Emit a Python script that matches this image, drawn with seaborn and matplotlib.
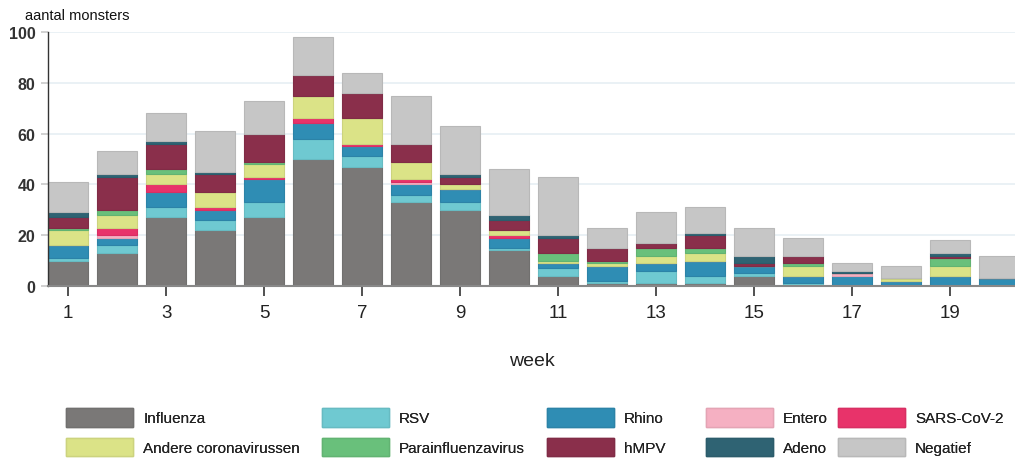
import numpy as np
import pandas as pd
import matplotlib
matplotlib.use("Agg")
import matplotlib.pyplot as plt
import matplotlib.colors as mcolors
from matplotlib.patches import Patch
import seaborn as sns

weeks = list(range(1, 21))
viruses = ["Influenza", "RSV", "Rhino", "Entero", "SARS-CoV-2",
           "Andere coronavirussen", "Parainfluenzavirus", "hMPV", "Adeno", "Negatief"]
colors = ["#7a7877", "#6fc9d1", "#2f8db4", "#f5b0c2", "#e8336a",
          "#dbe387", "#69c07b", "#8a2f4b", "#2f6373", "#c6c6c6"]

influenza = [10, 13, 27, 22, 27, 50, 47, 33, 30, 14, 4, 1, 1, 1, 4, 0, 0, 0, 0, 0]
rsv       = [1, 3, 4, 4, 6, 8, 4, 3, 3, 1, 3, 1, 5, 3, 1, 1, 0, 0, 0, 0]
rhino     = [5, 3, 6, 4, 9, 6, 4, 4, 5, 4, 2, 6, 3, 6, 3, 3, 4, 2, 4, 3]
entero    = [0, 1, 0, 0, 0, 0, 0, 1, 0, 0, 0, 0, 0, 0, 0, 0, 1, 0, 0, 0]
sars      = [0, 3, 3, 1, 1, 2, 1, 1, 0, 1, 0, 0, 0, 0, 0, 0, 0, 0, 0, 0]
andere    = [6, 5, 4, 6, 5, 9, 10, 7, 2, 2, 1, 1, 3, 3, 0, 4, 0, 1, 4, 0]
para      = [1, 2, 2, 0, 1, 0, 0, 0, 0, 0, 3, 1, 3, 2, 0, 1, 0, 0, 3, 0]
hmpv      = [4, 13, 10, 7, 11, 8, 10, 7, 3, 4, 6, 5, 2, 5, 1, 3, 0, 0, 1, 0]
adeno     = [2, 1, 1, 1, 0, 0, 0, 0, 1, 2, 1, 0, 0, 1, 3, 0, 1, 0, 1, 0]
negatief  = [12, 9, 11, 16, 13, 15, 8, 19, 19, 18, 23, 8, 12, 10, 11, 7, 3, 5, 5, 9]

series = [influenza, rsv, rhino, entero, sars, andere, para, hmpv, adeno, negatief]

rows = []
for name, vals in zip(viruses, series):
    for w, v in zip(weeks, vals):
        rows.append({"week": w, "virus": name, "n": v})
df = pd.DataFrame(rows)

sns.set_theme(style="white")
plt.rcParams["font.family"] = ["Liberation Sans", "DejaVu Sans"]

fig = plt.figure(figsize=(10.15, 4.64), dpi=100)
ax = fig.add_axes([48 / 1015, 1 - 287 / 464, 1 - 48 / 1015, (287 - 33) / 464])

palette = dict(zip(viruses, colors))


def edge_of(c):
    return tuple(np.array(mcolors.to_rgb(c)) * 0.93)


# seaborn stacks the first hue level on top, so reverse the order
sns.histplot(data=df, x="week", weights="n", hue="virus",
             hue_order=viruses[::-1], palette=palette, multiple="stack",
             discrete=True, shrink=0.82, alpha=1, linewidth=0.8,
             legend=False, ax=ax)

for p in ax.patches:
    p.set_edgecolor(edge_of(p.get_facecolor()))

ax.set_xlim(0.59, 20.33)
ax.set_ylim(0, 100)
ax.set_yticks([0, 20, 40, 60, 80, 100])
ax.set_xticks(list(range(1, 20, 2)))
ax.grid(axis="y", color="#e6eff4", linewidth=1.2)
ax.set_axisbelow(True)
for s in ["top", "right"]:
    ax.spines[s].set_visible(False)
ax.spines["left"].set_color("#333333")
ax.spines["left"].set_linewidth(1.0)
ax.spines["bottom"].set_color("#888888")
ax.spines["bottom"].set_linewidth(1.5)
ax.tick_params(axis="y", labelsize=11.5, colors="#333333", length=5,
               color="#cccccc", pad=4, left=True)
ax.tick_params(axis="x", labelsize=13.5, colors="#222222", length=7,
               color="#333333", width=1.2, pad=6, bottom=True)
for t in ax.get_yticklabels():
    t.set_fontweight("bold")
ax.set_ylabel("")
ax.set_xlabel("week", fontsize=14, color="#222222", labelpad=22)

fig.text(25 / 1015, 1 - 16 / 464, "aantal monsters", fontsize=10.5,
         color="#111111", va="center", ha="left")

# legend: five columns of two entries
col_x = [66, 322, 547, 706, 838]
for c in range(5):
    items = [viruses[c], viruses[c + 5]]
    handles = [Patch(facecolor=palette[v], edgecolor=edge_of(palette[v]))
               for v in items]
    leg = fig.legend(handles, items, loc="upper left",
                     bbox_to_anchor=(col_x[c] / 1015, 1 - 409 / 464),
                     frameon=False, fontsize=11, handlelength=4.4,
                     handleheight=1.5, handletextpad=0.65, labelspacing=0.72,
                     borderaxespad=0, borderpad=0, labelcolor="#222222")
    fig.add_artist(leg)

fig.savefig("out.png", dpi=100)
